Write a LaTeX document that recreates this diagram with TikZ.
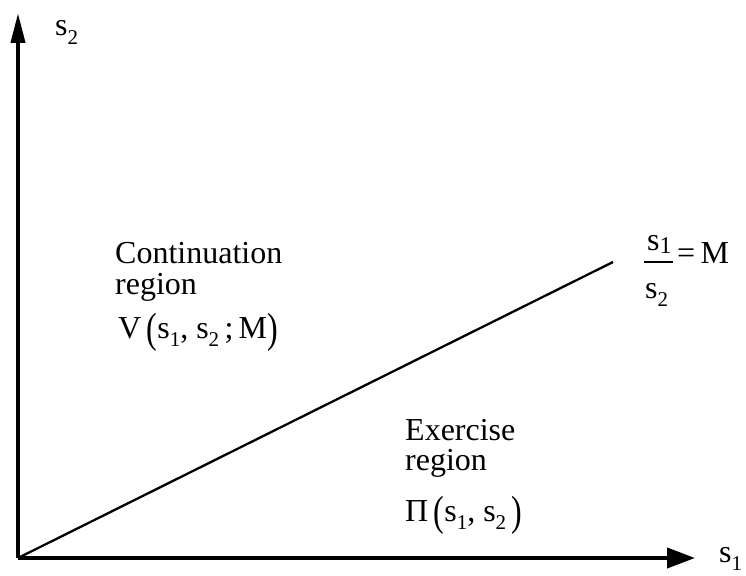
\documentclass[tikz,border=0pt]{standalone}
\usepackage{fontspec}
\usepackage{graphicx}
\setmainfont{Liberation Serif}
\usetikzlibrary{arrows.meta}
\tikzset{
  axis/.style={line width=4pt},
  lbl/.style={inner sep=0pt, anchor=base west, font=\fontsize{32}{34}\selectfont},
}
\newcommand{\subx}[1]{\raisebox{-0.28em}{\fontsize{21}{21}\selectfont #1}}
\newcommand{\tallp}[1]{\raisebox{-0.13em}{\scalebox{1}[1.32]{#1}}}
\begin{document}
\begin{tikzpicture}[x=1pt,y=-1pt]
\useasboundingbox (0,0) rectangle (746,575);
\coordinate (O) at (18,558);
\coordinate (Y) at (18,13);
\coordinate (X) at (695,558);
\coordinate (L) at (613,262);
\draw[axis,-{Triangle[length=30pt,width=14pt]}] (O) -- (Y);
\draw[axis,-{Triangle[length=28pt,width=20pt]}] (O) -- (X);
\draw[line width=2.3pt] (O) -- (L);
\node[lbl] (s2) at (55,36) {s\subx{2}};
\node[lbl] (s1) at (719,562) {s\subx{1}};
% fraction s1/s2 = M
\coordinate (fb1) at (644,262);
\coordinate (fb2) at (673,262);
\draw[line width=1.6pt] (fb1) -- (fb2);
\node[lbl] (num) at (647,250) {s\raisebox{-0.1em}{\fontsize{24}{24}\selectfont 1}};
\node[lbl] (den) at (645,298) {s\subx{2}};
\node[lbl] (eqM) at (677,263) {=\,M};
% region labels
\node[lbl] (c1) at (115,263) {Continuation};
\node[lbl] (c2) at (115,294) {region};
\node[lbl] (c3) at (118,338) {V\,\tallp{(}s\subx{1}, s\subx{2}\,;\,M\tallp{)}};
\node[lbl] (e1) at (405,440) {Exercise};
\node[lbl] (e2) at (405,470) {region};
\node[lbl] (e3) at (405,521) {Π\,\tallp{(}s\subx{1}, s\subx{2}\,\tallp{)}};
\end{tikzpicture}
\end{document}
